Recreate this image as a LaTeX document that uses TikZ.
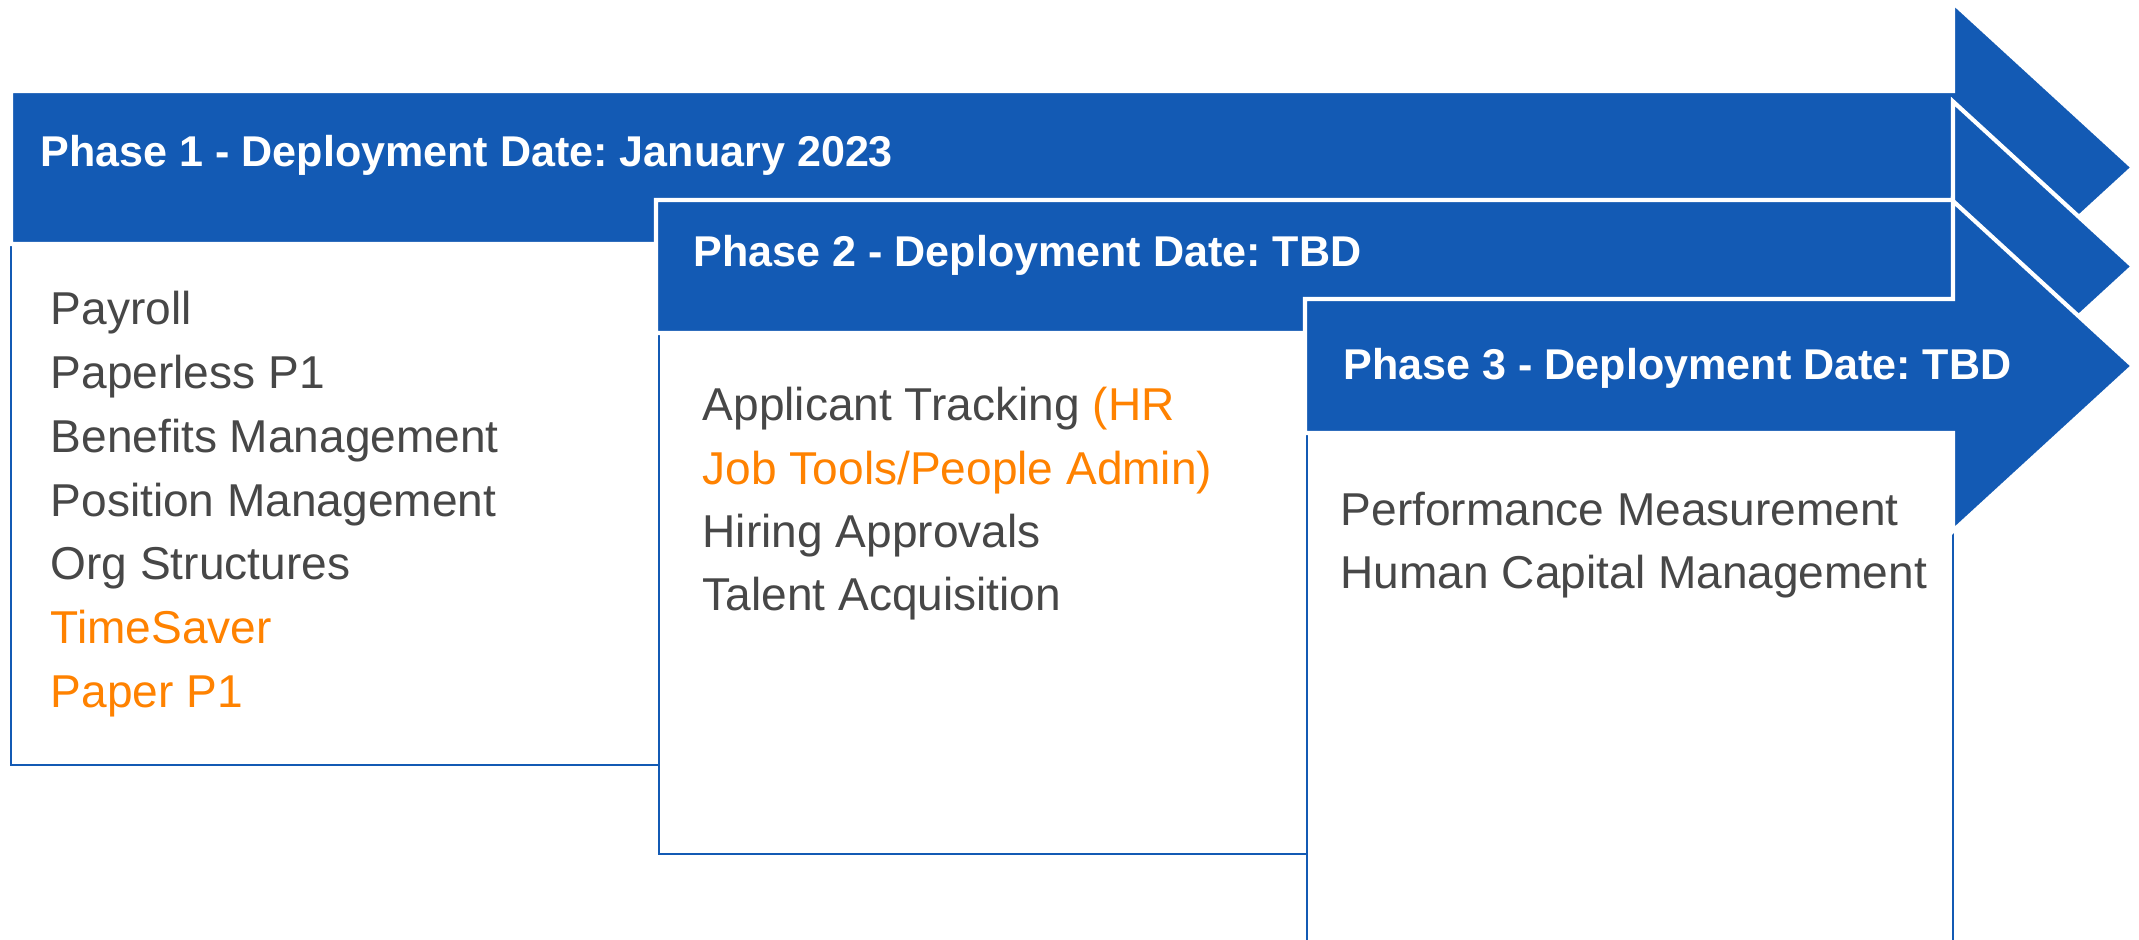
\documentclass[tikz,border=0pt]{standalone}
\usepackage{fontspec}
\setmainfont{Liberation Sans}
\frenchspacing
\definecolor{phaseblue}{HTML}{135AB4}
\definecolor{itemgray}{HTML}{474747}
\definecolor{itemorange}{HTML}{FF8200}
\tikzset{
  phasearrow/.style={fill=phaseblue, draw=white, line width=1.2pt, line join=miter},
  phasebody/.style={fill=white, draw=phaseblue, line width=0.7pt},
  phasetitle/.style={anchor=base west, inner sep=0pt, text=white,
    font=\fontsize{12.25}{15}\selectfont\bfseries},
  phaseitem/.style={anchor=base west, inner sep=0pt,
    font=\fontsize{13.1}{16}\selectfont},
}
% block arrow: left x, bar top y, bar bottom y
\newcommand{\phasebar}[3]{%
  \draw[phasearrow] (#1,#2) -- (1953,#2) -- (1953,{(#2+#3)/2-165})
    -- (2133,{(#2+#3)/2}) -- (1953,{(#2+#3)/2+165}) -- (1953,#3)
    -- (#1,#3) -- cycle;}

\begin{document}
\begin{tikzpicture}[x=0.01cm,y=-0.01cm]
\useasboundingbox (0,0) rectangle (2139,940);

% phase 1
\draw[phasebody] (11,244) rectangle (659,765);
\phasebar{11}{91}{244}
\node[phasetitle] (title1) at (40,167) {Phase 1 - Deployment Date: January 2023};
\foreach \txt/\col [count=\i] in {Payroll/itemgray, Paperless P1/itemgray,
    Benefits Management/itemgray, Position Management/itemgray,
    Org Structures/itemgray, TimeSaver/itemorange, Paper P1/itemorange}
  \node[phaseitem, text=\col] (item1-\i) at (50,{325+63.7*(\i-1)}) {\txt};

% phase 2
\draw[phasebody] (659,333) rectangle (1307,854);
\phasebar{656}{200}{333}
\node[phasetitle] (title2) at (693,267) {Phase 2 - Deployment Date: TBD};
\foreach \txt/\col [count=\i] in {{Applicant Tracking \textcolor{itemorange}{(HR}}/itemgray,
    {Job Tools/People Admin)}/itemorange, Hiring Approvals/itemgray,
    Talent Acquisition/itemgray}
  \node[phaseitem, text=\col] (item2-\i) at (702,{421+63.3*(\i-1)}) {\txt};

% phase 3
\draw[phasebody] (1307,433) rectangle (1953,960);
\phasebar{1305}{299}{433}
\node[phasetitle] (title3) at (1343,380) {Phase 3 - Deployment Date: TBD};
\foreach \txt [count=\i] in {Performance Measurement, Human Capital Management}
  \node[phaseitem, text=itemgray] (item3-\i) at (1340,{525+64*(\i-1)}) {\txt};
\end{tikzpicture}
\end{document}
